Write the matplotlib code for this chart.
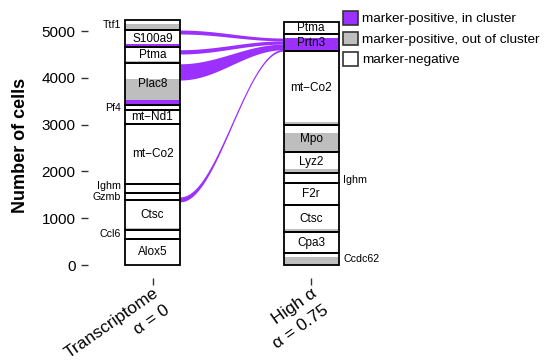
import numpy as np
import matplotlib
matplotlib.use("Agg")
import matplotlib.pyplot as plt
from matplotlib.patches import Rectangle, Patch

plt.rcParams['font.family'] = ['Liberation Sans', 'DejaVu Sans']

PURPLE = "#9b30ff"
GREY = "#bebebe"

# cell counts per marker gene, stacked bottom to top
left_genes = ["Alox5", "Ccl6", "Ctsc", "Gzmb", "Ighm", "mt\u2212Co2", "mt\u2212Nd1",
              "Pf4", "Plac8", "Ptma", "S100a9", "Ttf1"]
left_in = [0, 0, 0, 0, 0, 0, 0, 0, 107, 0, 55, 0]
left_out = [0, 0, 45, 0, 0, 0, 0, 0, 450, 45, 20, 130]
left_neg = [556, 192, 596, 149, 193, 1282, 299, 107, 340, 297, 288, 84]

right_genes = ["Ccdc62", "Cpa3", "Ctsc", "F2r", "Ighm", "Lyz2", "Mpo",
               "mt\u2212Co2", "Prtn3", "Ptma"]
right_in = [0, 0, 0, 0, 0, 0, 0, 0, 270, 0]
right_out = [180, 0, 64, 0, 0, 85, 410, 55, 0, 0]
right_neg = [76, 449, 513, 470, 214, 364, 166, 1527, 93, 256]

# genes labelled beside the stack, with a small vertical nudge
left_outside = {"Ttf1": 0, "Pf4": 0, "Ighm": 60, "Gzmb": -20, "Ccl6": 0}
right_outside = {"Ighm": -40, "Ccdc62": 0}

# flows of in-cluster cells: (start low, start high) -> (end low, end high)
flow_src_lo = [4936, 4509, 3953, 1350]
flow_src_hi = [5021, 4600, 4300, 1455]
flow_dst_lo = [4790, 4720, 4600, 4570]
flow_dst_hi = [4850, 4790, 4720, 4610]

xtick_labels = ["Transcriptome\n\u03b1 = 0", "High \u03b1\n\u03b1 = 0.75"]

W = 0.347
ANG = 35

fig = plt.figure(figsize=(5.46, 3.62), dpi=100)
ax = fig.add_axes([0.1603, 0.232, 0.5632, 0.7348])


def draw_stack(xc, genes, n_in, n_out, n_neg, outside, side):
    base = 0
    for g, a, b, c in zip(genes, n_in, n_out, n_neg):
        x0 = xc - W / 2
        y = base
        for val, col in ((a, PURPLE), (b, GREY), (c, "white")):
            if val > 0:
                ax.add_patch(Rectangle((x0, y), W, val, facecolor=col,
                                       edgecolor="none", zorder=2))
            y += val
        total = a + b + c
        ax.add_patch(Rectangle((x0, base), W, total, facecolor="none",
                               edgecolor="black", lw=1.3, zorder=3))
        mid = base + total / 2
        if g in outside:
            if side == "left":
                ax.text(x0 - 0.025, mid + outside[g], g, ha="right",
                        va="center", fontsize=7.7, zorder=4)
            else:
                ax.text(x0 + W + 0.03, mid + outside[g], g, ha="left",
                        va="center", fontsize=7.7, zorder=4)
        else:
            ax.text(xc, mid, g, ha="center", va="center", fontsize=8.5,
                    zorder=4)
        base += total


# flows between the two stacks
t = np.linspace(0, 1, 120)
s = (1 - np.cos(np.pi * t)) / 2
xs = (1 + W / 2) + (2 - W / 2 - (1 + W / 2)) * t
for a_lo, a_hi, b_lo, b_hi in zip(flow_src_lo, flow_src_hi, flow_dst_lo, flow_dst_hi):
    lo = a_lo + (b_lo - a_lo) * s
    hi = a_hi + (b_hi - a_hi) * s
    ax.fill_between(xs, lo, hi, color=PURPLE, lw=0, zorder=1)

draw_stack(1, left_genes, left_in, left_out, left_neg, left_outside, "left")
draw_stack(2, right_genes, right_in, right_out, right_neg, right_outside, "right")

ax.set_xlim(0.59, 2.53)
ax.set_ylim(-278, 5406)
for sp in ax.spines.values():
    sp.set_visible(False)

ax.set_yticks(range(0, 5001, 1000))
ax.set_yticklabels([str(v) for v in range(0, 5001, 1000)], fontsize=11)
ax.set_xticks([1, 2])
ax.set_xticklabels([])
ax.tick_params(axis="both", length=5, width=1, color="#333333")
ax.set_ylabel("Number of cells", fontsize=13, fontweight="bold")
ax.yaxis.set_label_coords(-0.19, 0.5)

# rotated two-line category labels, right-aligned at the tick
step = 14.5
dx = step * np.sin(np.radians(ANG))
dy = -step * np.cos(np.radians(ANG))
for xpos, lab in zip([1, 2], xtick_labels):
    for i, line in enumerate(lab.split("\n")):
        ax.annotate(line, xy=(xpos, 0), xycoords=("data", "axes fraction"),
                    xytext=(i * dx, -5.5 + i * dy), textcoords="offset points",
                    ha="right", va="top", rotation=ANG,
                    rotation_mode="anchor", fontsize=12.5)

handles = [Patch(facecolor=PURPLE, edgecolor="#333333", lw=1.2),
           Patch(facecolor=GREY, edgecolor="#333333", lw=1.2),
           Patch(facecolor="white", edgecolor="#333333", lw=1.2)]
fig.legend(handles, ["marker-positive, in cluster",
                     "marker-positive, out of cluster",
                     "marker-negative"],
           loc="upper left", bbox_to_anchor=(343 / 546, 1 - 11 / 362),
           frameon=False, fontsize=9.7, handlelength=1.15, handleheight=1.2,
           handletextpad=0.25, labelspacing=0.45, borderpad=0, borderaxespad=0)

fig.savefig("out.png", dpi=100)
